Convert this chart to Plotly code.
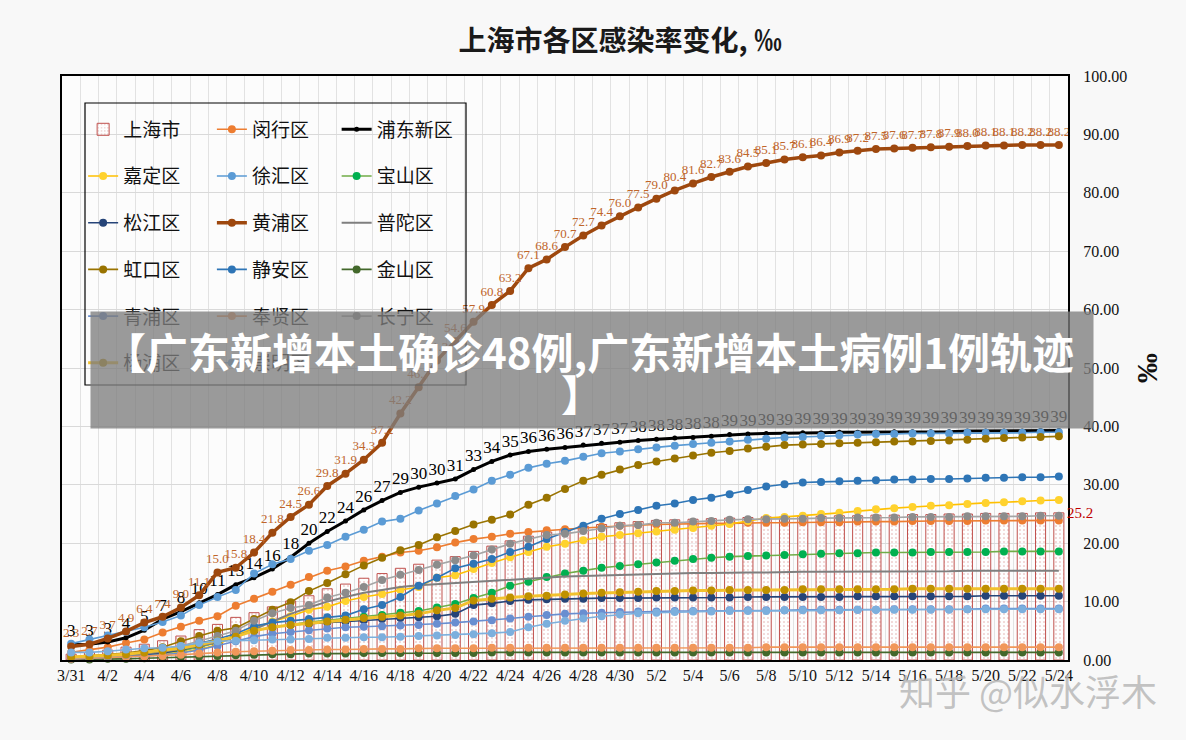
import plotly.graph_objects as go

dates = ["3/31",
         "4/1", "4/2", "4/3", "4/4", "4/5", "4/6", "4/7", "4/8", "4/9", "4/10",
         "4/11", "4/12", "4/13", "4/14", "4/15", "4/16", "4/17", "4/18", "4/19", "4/20",
         "4/21", "4/22", "4/23", "4/24", "4/25", "4/26", "4/27", "4/28", "4/29", "4/30",
         "5/1", "5/2", "5/3", "5/4", "5/5", "5/6", "5/7", "5/8", "5/9", "5/10",
         "5/11", "5/12", "5/13", "5/14", "5/15", "5/16", "5/17", "5/18", "5/19", "5/20",
         "5/21", "5/22", "5/23", "5/24"]
tick_labels = [d if i % 2 == 0 else "" for i, d in enumerate(dates)]

shanghai = [1.0, 1.3, 1.7, 2.2, 2.7, 3.3, 4.1, 5.2, 6.1, 7.3,
            8.1, 9.1, 10.1, 11.0, 12.2, 13.0, 14.0, 14.8, 15.7, 16.4,
            17.1, 17.7, 18.6, 19.5, 20.4, 21.2, 21.9, 22.4, 22.9, 23.2,
            23.5, 23.7, 23.9, 24.0, 24.1, 24.2, 24.3, 24.4, 24.5, 24.5,
            24.6, 24.6, 24.7, 24.7, 24.8, 24.8, 24.9, 24.9, 25.0, 25.0,
            25.1, 25.1, 25.1, 25.2, 25.2]
minhang = [1.3, 1.7, 2.2, 2.9, 3.5, 4.7, 5.7, 6.7, 7.5, 9.3,
           10.5, 11.7, 12.9, 14.2, 15.3, 16.0, 17.0, 17.7, 18.4, 18.7,
           19.3, 20.1, 20.7, 21.1, 21.6, 21.9, 22.2, 22.4, 22.6, 22.8,
           23.0, 23.1, 23.2, 23.3, 23.3, 23.4, 23.4, 23.5, 23.5, 23.5,
           23.6, 23.6, 23.6, 23.7, 23.7, 23.7, 23.8, 23.8, 23.8, 23.8,
           23.9, 23.9, 23.9, 23.9, 23.9]
pudong = [2.6, 2.7, 3.1, 3.8, 5.1, 7.0, 8.3, 9.8, 11.2, 12.9,
          14.1, 15.6, 17.6, 20.0, 22.0, 23.8, 25.7, 27.3, 28.7, 29.6,
          30.3, 31.0, 32.6, 34.0, 35.1, 35.7, 36.1, 36.4, 36.8, 37.1,
          37.3, 37.6, 37.8, 38.0, 38.1, 38.3, 38.6, 38.7, 38.8, 38.8,
          38.9, 38.9, 39.0, 39.0, 39.0, 39.1, 39.1, 39.1, 39.1, 39.2,
          39.2, 39.2, 39.2, 39.3, 39.3]
jiading = [0.3, 0.4, 0.5, 0.6, 0.8, 1.0, 1.3, 1.8, 2.6, 4.2,
           5.5, 6.6, 7.5, 8.6, 9.1, 10.1, 10.8, 11.3, 12.0, 12.5,
           14.1, 14.5, 15.6, 16.6, 17.6, 18.5, 19.4, 19.9, 20.5, 21.1,
           21.4, 21.7, 22.0, 22.3, 22.6, 23.0, 23.3, 23.8, 24.3, 24.5,
           24.7, 25.0, 25.2, 25.5, 25.8, 26.0, 26.2, 26.4, 26.5, 26.7,
           26.9, 27.0, 27.2, 27.3, 27.4]
xuhui = [2.8, 3.5, 4.2, 4.8, 5.6, 6.5, 7.6, 9.4, 10.8, 12.0,
         14.8, 16.4, 17.3, 18.7, 19.7, 21.1, 22.3, 23.7, 24.2, 25.6,
         26.8, 28.1, 29.2, 30.7, 31.7, 32.9, 33.6, 34.1, 34.8, 35.4,
         35.7, 36.1, 36.4, 36.7, 37.0, 37.2, 37.4, 37.7, 37.9, 38.1,
         38.2, 38.4, 38.5, 38.6, 38.7, 38.7, 38.8, 38.8, 38.8, 38.9,
         38.9, 38.9, 38.9, 39.0, 39.0]
baoshan = [0.2, 0.3, 0.4, 0.6, 0.9, 1.2, 1.6, 2.2, 3.0, 4.0,
           5.0, 5.6, 6.1, 6.5, 6.8, 7.1, 7.4, 7.7, 8.1, 8.4,
           9.0, 9.6, 10.6, 11.5, 12.7, 13.4, 14.2, 14.8, 15.3, 15.8,
           16.1, 16.4, 16.7, 17.0, 17.3, 17.5, 17.7, 17.8, 17.9, 18.0,
           18.1, 18.2, 18.3, 18.3, 18.4, 18.4, 18.4, 18.5, 18.5, 18.5,
           18.5, 18.6, 18.6, 18.6, 18.6]
songjiang = [0.3, 0.4, 0.5, 0.7, 0.9, 1.2, 1.7, 2.4, 3.2, 4.2,
             5.0, 5.6, 6.0, 6.2, 6.4, 6.6, 6.8, 7.0, 7.2, 7.3,
             7.5, 7.9, 9.4, 9.7, 10.1, 10.3, 10.4, 10.5, 10.5, 10.6,
             10.6, 10.6, 10.7, 10.7, 10.7, 10.7, 10.7, 10.8, 10.8, 10.8,
             10.8, 10.8, 10.8, 10.9, 10.9, 10.9, 10.9, 10.9, 10.9, 10.9,
             11.0, 11.0, 11.0, 11.0, 11.0]
huangpu = [2.3, 2.7, 3.7, 4.9, 6.4, 7.4, 9.0, 11.1, 15.0, 15.8,
           18.4, 21.8, 24.5, 26.6, 29.8, 31.9, 34.3, 37.2, 42.2, 46.7,
           51.3, 54.6, 57.9, 60.8, 63.2, 67.1, 68.6, 70.7, 72.7, 74.4,
           76.0, 77.5, 79.0, 80.4, 81.6, 82.7, 83.6, 84.5, 85.1, 85.7,
           86.1, 86.4, 86.9, 87.2, 87.5, 87.6, 87.7, 87.8, 87.9, 88.0,
           88.1, 88.1, 88.2, 88.2, 88.2]
putuo = [0.3, 0.4, 0.6, 0.8, 1.1, 1.4, 1.9, 2.4, 3.0, 4.0,
         5.2, 6.6, 7.9, 9.0, 10.0, 10.8, 11.5, 12.0, 12.5, 12.8,
         13.0, 13.2, 13.4, 13.6, 13.8, 14.0, 14.2, 14.3, 14.4, 14.5,
         14.6, 14.7, 14.8, 14.8, 14.9, 14.9, 15.0, 15.0, 15.0, 15.1,
         15.1, 15.1, 15.1, 15.2, 15.2, 15.2, 15.2, 15.2, 15.2, 15.3,
         15.3, 15.3, 15.3, 15.3, 15.3]
hongkou = [0.5, 0.7, 0.9, 1.2, 1.6, 2.2, 3.2, 4.1, 5.0, 5.5,
           7.0, 8.6, 9.9, 11.8, 13.2, 14.7, 16.2, 17.5, 18.8, 19.7,
           21.0, 22.1, 23.2, 24.0, 24.9, 26.6, 27.8, 29.3, 30.7, 31.7,
           32.6, 33.4, 34.0, 34.5, 35.0, 35.5, 35.8, 36.2, 36.5, 36.8,
           36.9, 37.0, 37.1, 37.2, 37.3, 37.4, 37.4, 37.5, 37.6, 37.7,
           37.9, 38.0, 38.1, 38.2, 38.3]
jingan = [0.4, 0.5, 0.7, 0.9, 1.2, 1.6, 2.1, 2.8, 3.6, 4.5,
          5.8, 6.4, 6.7, 7.0, 7.3, 7.6, 8.7, 9.4, 10.8, 12.7,
          14.1, 15.7, 16.5, 17.3, 18.5, 19.4, 20.7, 21.9, 23.0, 24.2,
          25.0, 25.7, 26.4, 26.8, 27.4, 27.8, 28.4, 29.1, 29.7, 30.1,
          30.4, 30.5, 30.6, 30.7, 30.8, 30.9, 30.9, 31.0, 31.0, 31.1,
          31.2, 31.2, 31.3, 31.3, 31.4]
jinshan = [0.1, 0.1, 0.2, 0.2, 0.3, 0.4, 0.5, 0.6, 0.7, 0.8,
           0.9, 1.0, 1.0, 1.1, 1.1, 1.1, 1.2, 1.2, 1.2, 1.2,
           1.2, 1.2, 1.2, 1.3, 1.3, 1.3, 1.3, 1.3, 1.3, 1.3,
           1.3, 1.3, 1.3, 1.3, 1.3, 1.3, 1.3, 1.3, 1.3, 1.3,
           1.3, 1.3, 1.3, 1.3, 1.3, 1.3, 1.3, 1.3, 1.3, 1.3,
           1.3, 1.3, 1.3, 1.3, 1.3]
qingpu = [0.2, 0.3, 0.4, 0.5, 0.7, 0.9, 1.2, 1.7, 2.4, 3.2,
          4.0, 4.5, 4.8, 5.1, 5.4, 5.6, 5.7, 5.8, 5.9, 6.0,
          6.2, 6.4, 6.6, 6.8, 7.1, 7.4, 7.7, 7.9, 8.0, 8.1,
          8.2, 8.3, 8.3, 8.4, 8.4, 8.4, 8.5, 8.5, 8.5, 8.5,
          8.6, 8.6, 8.6, 8.6, 8.6, 8.7, 8.7, 8.7, 8.7, 8.7,
          8.8, 8.8, 8.8, 8.8, 8.8]
fengxian = [0.2, 0.3, 0.4, 0.5, 0.6, 0.7, 0.9, 1.1, 1.3, 1.4,
            1.5, 1.6, 1.7, 1.7, 1.8, 1.8, 1.9, 1.9, 1.9, 2.0,
            2.0, 2.0, 2.0, 2.1, 2.1, 2.1, 2.1, 2.1, 2.1, 2.1,
            2.1, 2.1, 2.1, 2.1, 2.1, 2.1, 2.1, 2.1, 2.2, 2.2,
            2.2, 2.2, 2.2, 2.2, 2.2, 2.2, 2.2, 2.2, 2.2, 2.2,
            2.2, 2.2, 2.2, 2.2, 2.2]
changning = [0.3, 0.4, 0.6, 0.9, 1.3, 1.8, 2.4, 3.2, 4.1, 5.0,
             6.7, 8.0, 8.9, 9.4, 10.7, 11.5, 12.5, 13.7, 14.6, 15.4,
             16.3, 17.1, 17.9, 18.9, 19.9, 20.7, 21.4, 21.6, 22.1, 22.5,
             23.0, 23.1, 23.5, 23.5, 23.7, 23.8, 24.0, 24.1, 24.1, 24.2,
             24.2, 24.3, 24.3, 24.4, 24.4, 24.4, 24.5, 24.5, 24.5, 24.6,
             24.6, 24.6, 24.6, 24.7, 24.7]
yangpu = [0.5, 0.6, 0.8, 1.0, 1.3, 1.6, 2.0, 2.6, 3.3, 4.0,
          5.0, 5.6, 6.0, 6.3, 6.6, 6.9, 7.2, 7.4, 7.6, 7.9,
          8.5, 8.9, 10.2, 10.5, 10.7, 10.9, 11.0, 11.2, 11.4, 11.5,
          11.6, 11.7, 11.8, 11.8, 11.9, 11.9, 12.0, 12.0, 12.0, 12.0,
          12.1, 12.1, 12.1, 12.1, 12.1, 12.1, 12.2, 12.2, 12.2, 12.2,
          12.2, 12.2, 12.2, 12.2, 12.2]
chongming = [1.3, 1.3, 1.5, 1.8, 2.0, 2.1, 2.4, 2.9, 3.2, 3.3,
             3.4, 3.5, 3.5, 3.6, 3.8, 3.8, 3.9, 3.9, 4.0, 4.1,
             4.2, 4.3, 4.4, 4.6, 4.8, 5.6, 6.2, 6.7, 7.1, 7.5,
             7.8, 8.0, 8.1, 8.2, 8.3, 8.3, 8.4, 8.4, 8.4, 8.5,
             8.5, 8.5, 8.5, 8.6, 8.6, 8.6, 8.6, 8.6, 8.6, 8.7,
             8.7, 8.7, 8.7, 8.7, 8.7]

SERIF = "Liberation Serif, Noto Sans CJK SC, serif"
SANS = "Noto Sans CJK SC, sans-serif"

fig = go.Figure()

# 上海市 bars
fig.add_trace(go.Bar(
    x=dates, y=shanghai, name="上海市", legend="legend", legendgroup="上海市",
    marker=dict(color="rgba(255,255,255,0.6)",
                line=dict(color="#C0504D", width=1),
                pattern=dict(shape=".", fgcolor="#C0504D", bgcolor="rgba(255,255,255,0.55)",
                             size=4, solidity=0.12)),
))


def line_trace(name, values, color, legend, marker_color=None, width=1.6, msize=8,
               markers=True, text_fmt=None, text_color=None, text_size=13):
    mode = "lines+markers" if markers else "lines"
    kw = {}
    if text_fmt:
        mode += "+text"
        kw["texttemplate"] = text_fmt
        kw["textposition"] = "top center"
        kw["textfont"] = dict(family=SERIF, size=text_size, color=text_color)
    fig.add_trace(go.Scatter(
        x=dates, y=values, name=name, mode=mode, legend=legend, legendgroup=name,
        line=dict(color=color, width=width),
        marker=dict(color=marker_color or color, size=msize, line=dict(width=0)),
        cliponaxis=False, **kw))


line_trace("闵行区", minhang, "#ED7D31", "legend2")
line_trace("浦东新区", pudong, "#000000", "legend3", width=3, msize=5,
           text_fmt="%{y:.0f}", text_color="#000000", text_size=17)
line_trace("嘉定区", jiading, "#FFC000", "legend", marker_color="#FFD22E")
line_trace("徐汇区", xuhui, "#5B9BD5", "legend2")
line_trace("宝山区", baoshan, "#70AD47", "legend3", marker_color="#00B050")
line_trace("松江区", songjiang, "#264478", "legend")
line_trace("黄浦区", huangpu, "#9E480E", "legend2", width=3.5, msize=8,
           text_fmt="%{y:.1f}", text_color="#C0652A", text_size=13)
line_trace("普陀区", putuo, "#7F7F7F", "legend3", width=2, markers=False)
line_trace("虹口区", hongkou, "#997300", "legend")
line_trace("静安区", jingan, "#2E75B6", "legend2")
line_trace("金山区", jinshan, "#43682B", "legend3")
line_trace("青浦区", qingpu, "#698ED0", "legend")
line_trace("奉贤区", fengxian, "#F1975A", "legend2")
line_trace("长宁区", changning, "#A5A5A5", "legend3", marker_color="#8C8C8C")
line_trace("杨浦区", yangpu, "#F2C12E", "legend", marker_color="#BF9000", width=3)
line_trace("崇明区", chongming, "#7CAFDD", "legend2")

legend_common = dict(xanchor="left", yanchor="top", bgcolor="rgba(0,0,0,0)",
                     font=dict(family=SERIF, size=19, color="#111111"),
                     tracegroupgap=19, itemwidth=30)

LEG_Y = 0.941


def px_x(p):
    return (p - 62) / 1006


def px_y(p):
    return 1 - (p - 76) / 584


fig.update_layout(
    width=1186, height=740,
    paper_bgcolor="#F8F8F8", plot_bgcolor="#FCFCFC",
    margin=dict(l=62, r=118, t=76, b=80),
    title=dict(text="<b>上海市各区感染率变化, ‰</b>", x=0.523, xanchor="center",
               y=0.945, yanchor="middle",
               font=dict(family=SANS, size=28, color="#1a1a1a")),
    bargap=0.45,
    showlegend=True,
    legend=dict(x=0.021, y=LEG_Y, **legend_common),
    legend2=dict(x=0.149, y=LEG_Y, **legend_common),
    legend3=dict(x=0.273, y=LEG_Y, **legend_common),
    xaxis=dict(type="category", categoryorder="array", categoryarray=dates,
               range=[-0.5, len(dates) - 0.5],
               tickmode="array", tickvals=dates, ticktext=tick_labels,
               tickson="boundaries", ticks="",
               showgrid=True, gridcolor="#E2E2E2", gridwidth=1,
               showline=True, linecolor="#000000", linewidth=2, mirror=True,
               tickangle=0,
               tickfont=dict(family=SERIF, size=16, color="#111111")),
    yaxis=dict(side="right", range=[0, 100], dtick=10, tickformat=".2f",
               showgrid=True, gridcolor="#D9D9D9", gridwidth=1,
               showline=True, linecolor="#000000", linewidth=2, mirror=True,
               ticks="", ticklabelstandoff=10, zeroline=False,
               tickfont=dict(family=SERIF, size=16, color="#111111"),
               title=dict(text="<b>‰</b>", standoff=10,
                          font=dict(family=SERIF, size=30, color="#111111"))),
    shapes=[dict(type="rect", xref="paper", yref="paper",
                 x0=px_x(85), x1=px_x(466), y0=px_y(385), y1=px_y(103),
                 line=dict(color="#000000", width=1.2), layer="above")],
    annotations=[
        dict(x=dates[-1], y=shanghai[-1], xref="x", yref="y",
             text=f"{shanghai[-1]:.1f}", showarrow=False,
             xanchor="left", yanchor="middle", xshift=6,
             font=dict(family=SERIF, size=15, color="#C00000")),
        # grey banner background
        dict(x=px_x(592), y=px_y(370), xref="paper", yref="paper",
             xanchor="center", yanchor="middle", text=" ",
             showarrow=False, width=1000, height=114,
             bgcolor="rgba(125,125,125,0.78)", font=dict(size=10)),
        dict(x=px_x(589), y=px_y(350), xref="paper", yref="paper",
             xanchor="center", yanchor="middle",
             text="<b>【广东新增本土确诊48例,广东新增本土病例1例轨迹</b>",
             showarrow=False,
             font=dict(family=SANS, size=42, color="#FFFFFF")),
        dict(x=px_x(582), y=px_y(392), xref="paper", yref="paper",
             xanchor="center", yanchor="middle",
             text="<b>】</b>", showarrow=False,
             font=dict(family=SANS, size=42, color="#FFFFFF")),
        dict(x=px_x(1028), y=px_y(690), xref="paper", yref="paper",
             xanchor="center", yanchor="middle", showarrow=False,
             text="知乎 @似水浮木",
             font=dict(family=SANS, size=36, color="rgba(185,185,185,0.85)")),
    ],
)

fig.write_html("out.html", config={"displayModeBar": False},
               post_script="document.body.style.margin='0px';document.body.style.overflow='hidden';")
